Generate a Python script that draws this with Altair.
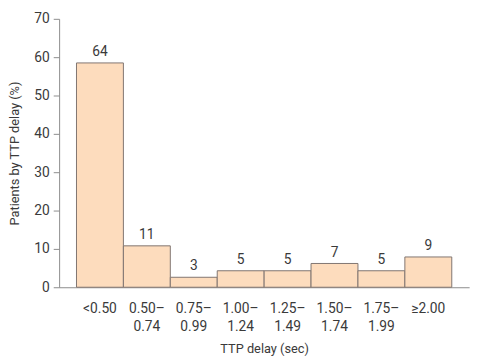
import altair as alt
import pandas as pd

categories = ["<0.50", "0.50–\n0.74", "0.75–\n0.99", "1.00–\n1.24", "1.25–\n1.49",
              "1.50–\n1.74", "1.75–\n1.99", "≥2.00"]
percent = [58.5, 10.8, 2.6, 4.3, 4.3, 6.2, 4.3, 7.9]
counts = [64, 11, 3, 5, 5, 7, 5, 9]

df = pd.DataFrame({"cat": categories, "pct": percent, "n": counts})

FONT = "Roboto"
TXT = "#3a3a3a"
AX = "#8c8c8c"

x = alt.X("cat:N", sort=categories, title="TTP delay (sec)",
          scale=alt.Scale(paddingInner=0, paddingOuter=0.37),
          axis=alt.Axis(labelAngle=0, ticks=False, domainColor=AX, labelColor=TXT,
                        labelFont=FONT, labelFontSize=14, labelPadding=15,
                        labelLineHeight=18, labelExpr="split(datum.label, '\\n')",
                        labelOverlap=False,
                        titleFont=FONT, titleFontSize=13, titleFontWeight="normal",
                        titleColor=TXT, titlePadding=9))
y_axis = alt.Axis(values=[0, 10, 20, 30, 40, 50, 60, 70], tickCount=8, grid=False,
                  domainColor=AX, tickColor=AX, tickSize=6, labelOverlap=False,
                  labelColor=TXT, labelFont=FONT, labelFontSize=14,
                  labelPadding=4, titleFont=FONT, titleFontSize=13,
                  titleFontWeight="normal", titleColor=TXT, titlePadding=13)
y = alt.Y("pct:Q", title="Patients by TTP delay (%)",
          scale=alt.Scale(domain=[0, 70], nice=False), axis=y_axis)

bars = alt.Chart(df).mark_bar(fill="#fddcbd", stroke="#7f7470", strokeWidth=1).encode(x=x, y=y)
labels = alt.Chart(df).mark_text(dy=-11, font=FONT, fontSize=14, color=TXT).encode(
    x=alt.X("cat:N", sort=categories), y=y, text="n:Q")

chart = (bars + labels).properties(
    width=417, height=273,
    autosize=alt.AutoSizeParams(type="none"),
    padding={"left": 52, "top": 8, "right": 8, "bottom": 72},
).configure_view(stroke=None)

chart.save("out.html", embed_options={"renderer": "svg", "actions": False})
